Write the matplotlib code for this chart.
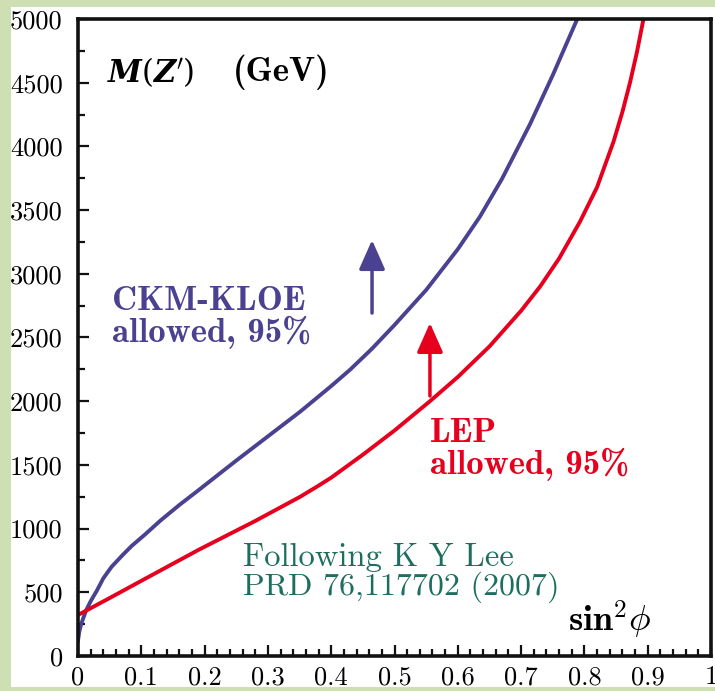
import matplotlib
matplotlib.use("Agg")
import matplotlib.pyplot as plt
from matplotlib.patches import Rectangle

# values
ckm_x = [0.0, 0.002, 0.005, 0.01, 0.013, 0.02, 0.03, 0.04, 0.053, 0.07,
         0.085, 0.105, 0.13, 0.16, 0.19, 0.25, 0.30, 0.351, 0.40, 0.43,
         0.464, 0.50, 0.55, 0.60, 0.635, 0.67, 0.714, 0.75, 0.788]
ckm_y = [120, 190, 250, 320, 360, 430, 515, 610, 700, 790,
         865, 950, 1062, 1185, 1300, 1534, 1724, 1918, 2119, 2248,
         2410, 2598, 2873, 3193, 3449, 3747, 4174, 4559, 4992]

lep_x = [0.0, 0.05, 0.1, 0.19, 0.28, 0.351, 0.379, 0.40, 0.45, 0.50,
         0.556, 0.60, 0.65, 0.70, 0.73, 0.76, 0.793, 0.82, 0.846, 0.86,
         0.872, 0.883, 0.893]
lep_y = [322, 455, 590, 832, 1060, 1250, 1334, 1400, 1580, 1770,
         2000, 2190, 2430, 2710, 2900, 3120, 3409, 3680, 4037, 4270,
         4500, 4740, 4992]

xticks = [0, 0.1, 0.2, 0.3, 0.4, 0.5, 0.6, 0.7, 0.8, 0.9, 1.0]
xticklabels = ["0", "0.1", "0.2", "0.3", "0.4", "0.5", "0.6", "0.7", "0.8", "0.9", "1"]
yticks = [0, 500, 1000, 1500, 2000, 2500, 3000, 3500, 4000, 4500, 5000]
yticklabels = [str(v) for v in yticks]

blue = "#4b4191"
red = "#e6001e"
teal = "#1e6e5f"
green = "#cfdfb4"

fig = plt.figure(figsize=(7.15, 6.91), dpi=100, facecolor=green)
fig.add_artist(Rectangle((11 / 715, 4 / 691), 1 - 11 / 715, 680 / 691,
                         transform=fig.transFigure, facecolor="white",
                         edgecolor="none", zorder=-5))
ax = fig.add_axes([78 / 715, 35 / 691, 633 / 715, 637 / 691])

ax.plot(ckm_x, ckm_y, color=blue, lw=2.8, solid_joinstyle="round")
ax.plot(lep_x, lep_y, color=red, lw=2.8, solid_joinstyle="round")

ax.set_xlim(0, 1)
ax.set_ylim(0, 5000)
ax.set_xticks(xticks)
ax.set_xticklabels(xticklabels, fontfamily="cmr10", fontsize=19)
ax.set_xticks([i * 0.02 for i in range(51)], minor=True)
ax.set_yticks(yticks)
ax.set_yticklabels(yticklabels, fontfamily="cmr10", fontsize=19)
ax.set_yticks(list(range(250, 5000, 500)), minor=True)
ax.tick_params(which="both", direction="in", top=False, right=False,
               width=1.6, color="#111111")
ax.tick_params(which="major", length=8)
ax.tick_params(which="minor", length=5)
ax.tick_params(axis="x", pad=7)
ax.tick_params(axis="y", pad=11)
for s in ax.spines.values():
    s.set_linewidth(2.6)
    s.set_color("#111111")

# arrows
ax.annotate("", xy=(0.4645, 3265), xytext=(0.4645, 2692),
            arrowprops=dict(arrowstyle="-|>,head_length=1.8,head_width=0.8",
                            color=blue, lw=2.5, shrinkA=0, shrinkB=0))
ax.annotate("", xy=(0.556, 2614), xytext=(0.556, 2041),
            arrowprops=dict(arrowstyle="-|>,head_length=1.8,head_width=0.8",
                            color=red, lw=2.5, shrinkA=0, shrinkB=0))

# labels
ax.text(0.046, 4584, r"$\mathbfit{M}(\mathbfit{Z}^{\prime})$",
        math_fontfamily="dejavuserif", fontsize=22, va="center", ha="left")
ax.text(0.245, 4584, "(GeV)", fontfamily="cmb10", fontsize=25,
        va="center", ha="left")
ax.text(0.774, 191, r"$\mathbf{sin}^{\mathbf{2}}\phi$", math_fontfamily="cm",
        fontsize=26, va="baseline", ha="left")

ax.text(0.054, 2716, "CKM-KLOE", fontfamily="cmb10", fontsize=25,
        color=blue, va="baseline")
ax.text(0.054, 2467, "allowed, 95%", fontfamily="cmb10", fontsize=25,
        color=blue, va="baseline")
ax.text(0.556, 1682, "LEP", fontfamily="cmb10", fontsize=25,
        color=red, va="baseline")
ax.text(0.556, 1429, "allowed, 95%", fontfamily="cmb10", fontsize=25,
        color=red, va="baseline")
ax.text(0.261, 706, "Following K Y Lee", fontfamily="cmr10", fontsize=23.5,
        color=teal, va="baseline")
ax.text(0.261, 479, "PRD 76,117702 (2007)", fontfamily="cmr10", fontsize=23,
        color=teal, va="baseline")

# bottom band covers the tick labels like in the original
fig.add_artist(Rectangle((0, 0), 1, 4 / 691, transform=fig.transFigure,
                         facecolor=green, edgecolor="none", zorder=10))

fig.savefig("out.png", dpi=100, facecolor=fig.get_facecolor())
